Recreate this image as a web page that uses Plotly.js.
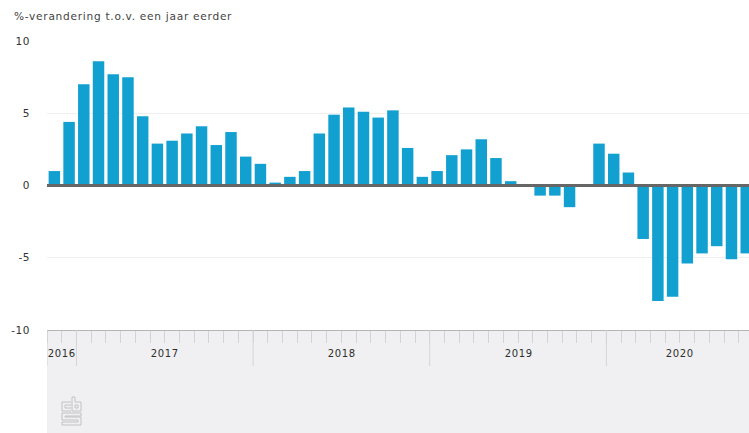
<!DOCTYPE html>
<html>
<head>
<meta charset="utf-8">
<script src="https://cdn.plot.ly/plotly-3.0.1.min.js"></script>
<style>
html,body{margin:0;padding:0;background:#fff;overflow:hidden}
#c{width:749px;height:433px}
#c .annotation-text{letter-spacing:.62px}
#c .annotation:last-child .annotation-text{letter-spacing:.72px}
#c .ytick text{letter-spacing:.5px}
</style>
</head>
<body>
<div id="c"></div>
<script>
var months = ["2016-11","2016-12",
"2017-01","2017-02","2017-03","2017-04","2017-05","2017-06","2017-07","2017-08","2017-09","2017-10","2017-11","2017-12",
"2018-01","2018-02","2018-03","2018-04","2018-05","2018-06","2018-07","2018-08","2018-09","2018-10","2018-11","2018-12",
"2019-01","2019-02","2019-03","2019-04","2019-05","2019-06","2019-07","2019-08","2019-09","2019-10","2019-11","2019-12",
"2020-01","2020-02","2020-03","2020-04","2020-05","2020-06","2020-07","2020-08","2020-09","2020-10"];
var change = [1.0,4.4,
7.0,8.6,7.7,7.5,4.8,2.9,3.1,3.6,4.1,2.8,3.7,2.0,
1.5,0.2,0.6,1.0,3.6,4.9,5.4,5.1,4.7,5.2,2.6,0.6,
1.0,2.1,2.5,3.2,1.9,0.3,0.0,-0.7,-0.7,-1.5,0.1,2.9,
2.2,0.9,-3.7,-8.0,-7.7,-5.4,-4.7,-4.2,-5.1,-4.7];
var yearLabels = ["2016","2017","2018","2019","2020"];
var yTicks = [-10,-5,0,5,10];
var yTickText = ["-10","-5","0","5","10"];

var index = months.map(function(m,i){return i;});
var firstOfYear = yearLabels.map(function(y){return months.indexOf(y+"-01");});
var boundaries = index.map(function(i){return i-0.5;}).concat([months.length-0.5]);
var yearStart = [-0.5].concat(firstOfYear.slice(1).map(function(i){return i-0.5;}));
var yearCentre = yearLabels.map(function(y,k){
  var members = index.filter(function(i){return months[i].slice(0,4)===y;});
  return k===yearLabels.length-1 ? members[0]+4.5 : (members[0]+members[members.length-1])/2;
});

var W=749,H=433,L=47,T=41,B=103;
var PW=W-L, PH=H-T-B;
var shapes=[];
shapes.push({type:'rect',layer:'below',xref:'paper',yref:'paper',x0:0,x1:1,y0:-B/PH,y1:0,fillcolor:'#f0f0f2',line:{width:0}});
yearStart.forEach(function(x){
  shapes.push({type:'line',xref:'x',yref:'paper',x0:x,x1:x,y0:0,y1:-36/PH,line:{color:'#d4d4d8',width:1}});
});
shapes.push({type:'line',xref:'paper',yref:'y',x0:0,x1:1,y0:0,y1:0,line:{color:'#666666',width:3}});
function logoLine(pts){
  for(var i=0;i<pts.length-1;i++){
    shapes.push({type:'line',xref:'paper',yref:'paper',
      x0:(pts[i][0]-L)/PW,x1:(pts[i+1][0]-L)/PW,y0:(330-pts[i][1])/PH,y1:(330-pts[i+1][1])/PH,
      line:{color:'#c2c2c6',width:1}});
  }
}
logoLine([[71,402],[62,402],[62,411],[71,411]]);
logoLine([[71,405],[65,405],[65,408],[71,408]]);
logoLine([[72,397],[75,397],[75,402],[81,402],[81,411],[72,411],[72,397]]);
logoLine([[75,405],[78,405],[78,408],[75,408],[75,405]]);
logoLine([[81,413],[62,413],[62,420],[78,420],[78,422],[62,422],[62,425],[81,425],[81,417],[65,417],[65,416],[81,416],[81,413]]);

var annotations=yearLabels.map(function(y,k){
  return {text:y,xref:'x',yref:'paper',x:k===0?-0.5:yearCentre[k],y:-23/PH,xanchor:k===0?'left':'center',yanchor:'middle',showarrow:false,
          font:{family:'DejaVu Sans, sans-serif',size:10,color:'#2e2e2e',weight:500}};
});
annotations.push({text:'%-verandering t.o.v. een jaar eerder',xref:'paper',yref:'paper',x:-22/PW,y:1+25/PH,xanchor:'left',yanchor:'middle',showarrow:false,font:{family:'DejaVu Sans, sans-serif',size:10.6,color:'#444'}});

Plotly.newPlot('c',[{
  type:'bar',x:index,y:change,hovertext:months,hoverinfo:'text+y',textposition:'none',
  marker:{color:'#12a0d0',line:{width:0}},width:0.78
}],{
  width:W,height:H,margin:{l:L,r:0,t:T,b:B,pad:0},
  paper_bgcolor:'#fff',plot_bgcolor:'#fff',showlegend:false,
  xaxis:{type:'linear',range:[-0.5,47.19],showgrid:false,zeroline:false,showline:true,linecolor:'#b5b5b8',linewidth:1,
    tickmode:'array',tickvals:boundaries,ticktext:boundaries.map(function(){return '';}),ticks:'outside',ticklen:12,tickcolor:'#d4d4d8',tickwidth:1},
  yaxis:{range:[-10,10],tickmode:'array',tickvals:yTicks,ticktext:yTickText,showgrid:true,gridcolor:'#efefef',gridwidth:1,zeroline:false,showline:false,
    ticks:'outside',ticklen:14,tickcolor:'rgba(0,0,0,0)',tickfont:{family:'DejaVu Sans, sans-serif',size:10.5,color:'#333'}},
  shapes:shapes,annotations:annotations
},{displayModeBar:false,staticPlot:true});
</script>
</body>
</html>
